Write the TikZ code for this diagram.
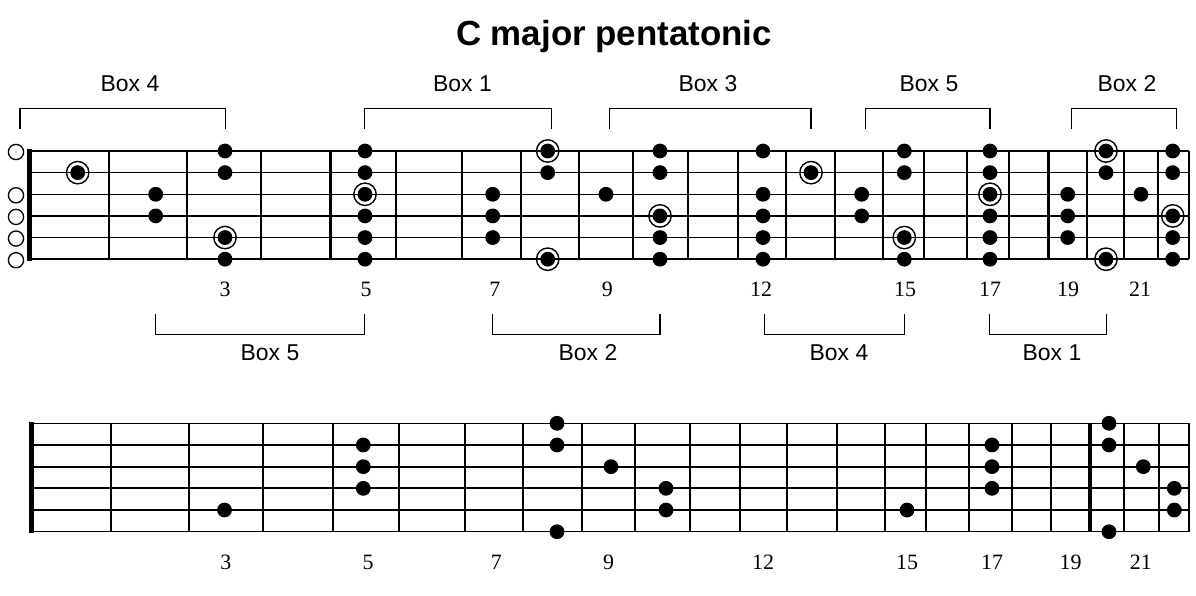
\documentclass[tikz,border=0pt]{standalone}
\usepackage{fontspec}
\setmainfont{Liberation Serif}
\setsansfont{Liberation Sans}
\tikzset{
  fret/.style={line width=2bp},
  heavyfret/.style={line width=3.3bp},
  nut/.style={line width=5bp},
  bracket/.style={line width=1.1bp},
  ring/.style={line width=1.4bp},
  opennote/.style={line width=1.3bp},
  boxlabel/.style={font=\sffamily\fontsize{23}{27}\selectfont},
  fretnum/.style={font=\fontsize{22}{26}\selectfont},
}
\begin{document}
\begin{tikzpicture}[x=1bp,y=-1bp]
\useasboundingbox (0,0) rectangle (1196,596);
\node [anchor=base,font=\sffamily\bfseries\fontsize{35}{40}\selectfont] (title) at (614,46) {C major pentatonic};

% upper neck
\foreach \s/\w in {1/2.3,2/1.4,3/1.4,4/2.3,5/1.4,6/1.4}
  \draw [line width=\w bp] (29,{151+21.64*(\s-1)})--(1188.7,{151+21.64*(\s-1)});
\foreach \x in {109.3,186.7,261,396,462.3,521,579,633.3,688.3,738.3,785.7,835,882.7,924,967,1009.3,1087,1123.7,1157.7,1188.7}
  \draw [fret] (\x,151)--(\x,259.2);
\draw [heavyfret] (330.7,151)--(330.7,259.2);
\draw [heavyfret] (1048.7,151)--(1048.7,259.2);
\draw [nut] (29.2,149.5)--(29.2,260.7);
\foreach \s in {1,3,4,5,6}
  \draw [opennote] (16,{152+21.64*(\s-1)}) circle [radius=7.6];
\foreach \x/\s in {77.7/2, 155.7/3,155.7/4, 225/1,225/2,225/5,225/6,
    365/1,365/2,365/3,365/4,365/5,365/6, 492.7/3,492.7/4,492.7/5,
    547.7/1,547.7/2,547.7/6, 606/3, 660/1,660/2,660/4,660/5,660/6,
    763/1,763/3,763/4,763/5,763/6, 811/2, 861.7/3,861.7/4,
    904.3/1,904.3/2,904.3/5,904.3/6, 990/1,990/2,990/3,990/4,990/5,990/6,
    1067.7/3,1067.7/4,1067.7/5, 1106/1,1106/2,1106/6, 1141/3,
    1172.7/1,1172.7/2,1172.7/4,1172.7/5,1172.7/6}
  \fill (\x,{151+21.64*(\s-1)}) circle [radius=7.4];
% roots
\foreach \x/\s in {77.7/2,225/5,365/3,547.7/1,547.7/6,660/4,811/2,904.3/5,990/3,1106/1,1106/6,1172.7/4}
  \draw [ring] (\x,{151+21.64*(\s-1)}) circle [radius=11.2];
\foreach \x/\n in {225/3,366/5,494.8/7,607.4/9,761.2/12,905/15,990/17,1068/19,1140/21}
  \node [fretnum] (topnum\n) at (\x,289.5) {\n};

% boxes above
\foreach \a/\b/\n in {20/225.8/4,364.7/551.5/1,609.3/811/3,865.2/990/5,1071.3/1176.4/2}
  \draw [bracket] (\a,129)|-(\b,108.5)--(\b,129);
\foreach \x/\n in {130/4,462.5/1,708/3,929/5,1127/2}
  \node [boxlabel] (topbox\n) at (\x,84) {Box \n};
% boxes below
\foreach \a/\b/\n in {155.4/364.7/5,492.5/660/2,764.7/904.3/4,989.3/1106.4/1}
  \draw [bracket] (\a,314)|-(\b,334.5)--(\b,314);
\foreach \x/\n in {270/5,588/2,839/4,1052/1}
  \node [boxlabel] (botbox\n) at (\x,353) {Box \n};

% lower neck
\foreach \s/\w in {1/1.4,2/1.4,3/2.3,4/2.3,5/1.4,6/1.4}
  \draw [line width=\w bp] (31,{423.3+21.68*(\s-1)})--(1189.3,{423.3+21.68*(\s-1)});
\foreach \x in {111.3,188.7,263,333.3,398.8,465,523,581.5,635.3,690,740.4,787,837.4,884.5,926,968.8,1012.3,1051,1124,1159,1189.3}
  \draw [fret] (\x,423.3)--(\x,531.7);
\draw [heavyfret] (1090,423.3)--(1090,531.7);
\draw [nut] (31.2,422)--(31.2,533);
\foreach \x/\s in {224.5/5, 363.3/2,363.3/3,363.3/4, 557/1,557/2,557/6, 611/3,
    666/4,666/5, 907/5, 992/2,992/3,992/4, 1109/1,1109/2,1109/6, 1143.3/3,
    1174.3/4,1174.3/5}
  \fill (\x,{423.3+21.68*(\s-1)}) circle [radius=7.4];
\foreach \x/\n in {225.8/3,368/5,496.4/7,608.5/9,763/12,907/15,992/17,1070.5/19,1140.8/21}
  \node [fretnum] (botnum\n) at (\x,562) {\n};
\end{tikzpicture}
\end{document}
